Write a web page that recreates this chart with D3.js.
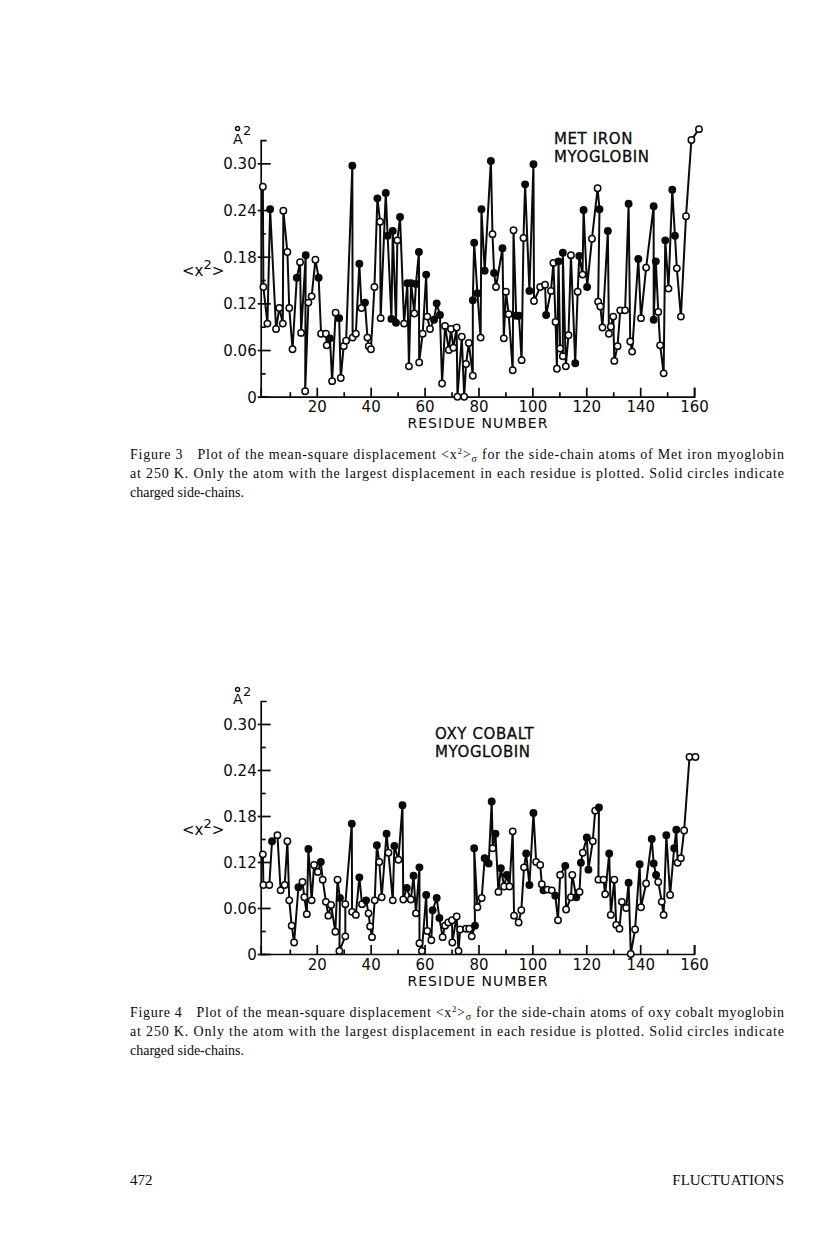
<!DOCTYPE html>
<html>
<head>
<meta charset="utf-8">
<script src="https://cdn.jsdelivr.net/npm/d3@7"></script>
<style>
  body { margin: 0; background: #fff; }
  svg { display: block; }
</style>
</head>
<body>
<svg width="816" height="1259"></svg>
<script>
// residue number, mean-square displacement, charged side-chain (1 = solid circle)
const metResidue = [0, 0.2, 1.7, 2.7, 4.9, 6.1, 7.4, 7.6, 9.1, 9.8, 11, 12.6, 13.8, 14.2, 15.9, 15.7, 16.9, 18.1, 19.5, 20.7,
  21.6, 23.4, 23.7, 24.9, 25.7, 27, 28.3, 28.9, 30, 30.9, 33.2, 33.3, 34.5, 35.8, 36.6, 37.9, 38.8, 39.3, 40.1, 41.4,
  42.5, 43.5, 43.7, 45.6, 46.3, 47.7, 48.2, 49.4, 49.9, 50.9, 52.4, 53.6, 54.2, 55, 56.2, 56.8, 57.9, 58, 59.3, 60.6,
  61, 62, 63.5, 64.5, 65.7, 66.5, 67.6, 69, 69.8, 70.7, 71.9, 72.2, 73.8, 74.7, 75.4, 76.4, 77.9, 77.9, 78.4, 79.6,
  80.8, 81.1, 82.3, 84.6, 85.2, 85.8, 86.5, 88.9, 89.4, 90.2, 91.2, 92.7, 93, 94, 95, 96, 96.7, 97.3, 98.9, 100.4,
  100.6, 102.9, 104.7, 105.1, 106.9, 107.8, 108.6, 109.1, 109.7, 110.3, 111.3, 111.3, 112.4, 113.4, 114.3, 115.9, 116.8, 117.4, 118.6, 119,
  120.3, 122.1, 124.2, 124.9, 124.4, 125.2, 126, 128, 128.4, 129.1, 130, 130.4, 131.6, 132.6, 134.4, 135.7, 136.3, 137, 139.3, 140.3,
  142.2, 145, 145, 145.8, 146.7, 147.4, 148.7, 149.3, 150.5, 151.9, 152.9, 153.6, 155.1, 157, 159, 161.8];
const metMsd = [0.270, 0.141, 0.094, 0.241, 0.087, 0.114, 0.094, 0.239, 0.186, 0.114, 0.061, 0.153, 0.173, 0.082, 0.182, 0.007, 0.121, 0.129, 0.176, 0.153,
  0.081, 0.081, 0.066, 0.075, 0.020, 0.108, 0.101, 0.024, 0.065, 0.072, 0.297, 0.076, 0.081, 0.171, 0.114, 0.121, 0.076, 0.065, 0.061, 0.141,
  0.255, 0.225, 0.101, 0.262, 0.207, 0.100, 0.213, 0.095, 0.201, 0.231, 0.094, 0.146, 0.039, 0.146, 0.107, 0.145, 0.186, 0.044, 0.081, 0.157,
  0.103, 0.087, 0.099, 0.120, 0.105, 0.017, 0.091, 0.060, 0.087, 0.063, 0.089, 0.000, 0.077, 0.000, 0.042, 0.069, 0.027, 0.124, 0.198, 0.133,
  0.076, 0.241, 0.162, 0.303, 0.209, 0.159, 0.141, 0.191, 0.075, 0.135, 0.106, 0.034, 0.214, 0.104, 0.104, 0.047, 0.204, 0.273, 0.136, 0.299,
  0.123, 0.141, 0.144, 0.105, 0.136, 0.172, 0.096, 0.036, 0.174, 0.062, 0.052, 0.185, 0.039, 0.079, 0.182, 0.043, 0.135, 0.181, 0.157, 0.240,
  0.141, 0.203, 0.268, 0.241, 0.122, 0.116, 0.089, 0.213, 0.081, 0.090, 0.103, 0.046, 0.065, 0.111, 0.111, 0.248, 0.071, 0.058, 0.177, 0.101,
  0.166, 0.245, 0.099, 0.174, 0.109, 0.066, 0.030, 0.201, 0.139, 0.266, 0.207, 0.165, 0.103, 0.232, 0.330, 0.344];
const metCharged = [0, 0, 0, 1, 0, 0, 0, 0, 0, 0, 0, 1, 0, 0, 1, 0, 0, 0, 0, 1,
  0, 0, 0, 1, 0, 0, 1, 0, 0, 0, 1, 0, 0, 1, 0, 1, 0, 0, 0, 0,
  1, 0, 0, 1, 1, 1, 1, 1, 0, 1, 0, 1, 0, 1, 0, 1, 1, 0, 0, 1,
  0, 0, 1, 1, 1, 0, 0, 0, 0, 0, 0, 0, 0, 0, 0, 0, 0, 1, 1, 1,
  0, 1, 1, 1, 0, 1, 0, 1, 0, 0, 0, 0, 0, 1, 1, 0, 0, 1, 1, 1,
  0, 0, 0, 1, 0, 0, 0, 0, 1, 0, 0, 1, 0, 0, 0, 1, 0, 1, 0, 1,
  1, 0, 0, 1, 0, 0, 0, 1, 0, 0, 0, 0, 0, 0, 0, 1, 0, 0, 1, 0,
  0, 1, 1, 1, 0, 0, 0, 1, 0, 1, 1, 0, 0, 0, 0, 0];

const oxyResidue = [0, 0.2, 2.4, 3.4, 5.4, 6.6, 8.1, 9.1, 9.8, 10.7, 11.6, 13.2, 14.7, 15.4, 16.3, 16.9, 18.1, 19, 20.4, 21.5,
  22.2, 23.4, 24.3, 25.3, 26.9, 27.7, 28.6, 28.4, 30.6, 30.6, 33, 33.1, 34.5, 35.8, 36.8, 38.3, 39.2, 39.8, 40.5, 41.5,
  42.3, 43.2, 44.1, 45.9, 46.6, 48.2, 48.8, 50.3, 51.8, 52.1, 53.4, 54.9, 55.9, 56.8, 58.1, 58.1, 59, 60.6, 61, 62.5,
  63, 64.5, 65.5, 66.7, 67.6, 68.8, 70.2, 70.3, 71.9, 72.6, 73.2, 75.4, 76.6, 77.5, 78.7, 78.4, 79.6, 81.2, 82.3, 83.8,
  84.9, 85.3, 86.3, 87.4, 88.3, 89.5, 90.5, 91.5, 92.7, 93.2, 94.9, 95.9, 96.9, 97.7, 98.9, 100.4, 101.4, 102.9, 103.5, 104.1,
  105.6, 107.2, 108.5, 109.5, 110.3, 112.2, 112.5, 114.3, 114.8, 116.3, 117.5, 118, 118.7, 120.2, 120.8, 122.4, 123.3, 124.7, 124.5, 126.4,
  127, 128.5, 129.1, 130.4, 131.1, 132.3, 133.2, 134.8, 135.7, 136.5, 138.1, 139.8, 140.3, 142.2, 144.3, 145, 145.9, 146.7, 148, 148.7,
  149.7, 151.1, 152.6, 153.4, 153.9, 155.1, 156.3, 158.3, 160.5];
const oxyMsd = [0.130, 0.090, 0.090, 0.147, 0.155, 0.083, 0.090, 0.147, 0.070, 0.037, 0.015, 0.087, 0.094, 0.074, 0.052, 0.137, 0.070, 0.116, 0.107, 0.120,
  0.097, 0.068, 0.050, 0.064, 0.029, 0.097, 0.073, 0.004, 0.023, 0.065, 0.170, 0.055, 0.051, 0.100, 0.065, 0.070, 0.053, 0.036, 0.022, 0.070,
  0.142, 0.120, 0.074, 0.157, 0.132, 0.070, 0.141, 0.123, 0.194, 0.071, 0.086, 0.071, 0.102, 0.053, 0.113, 0.014, 0.004, 0.077, 0.030, 0.018,
  0.057, 0.073, 0.047, 0.022, 0.037, 0.041, 0.044, 0.015, 0.049, 0.004, 0.032, 0.033, 0.033, 0.023, 0.037, 0.138, 0.061, 0.073, 0.125, 0.118,
  0.199, 0.138, 0.157, 0.081, 0.112, 0.088, 0.103, 0.088, 0.160, 0.050, 0.041, 0.057, 0.113, 0.131, 0.090, 0.184, 0.120, 0.116, 0.091, 0.083,
  0.084, 0.083, 0.076, 0.044, 0.103, 0.115, 0.058, 0.074, 0.103, 0.074, 0.081, 0.119, 0.132, 0.152, 0.110, 0.147, 0.187, 0.191, 0.097, 0.097,
  0.078, 0.131, 0.051, 0.097, 0.038, 0.033, 0.068, 0.060, 0.093, 0.000, 0.032, 0.117, 0.061, 0.092, 0.150, 0.118, 0.103, 0.094, 0.068, 0.051,
  0.155, 0.077, 0.138, 0.162, 0.119, 0.125, 0.161, 0.257, 0.257];
const oxyCharged = [0, 0, 0, 1, 0, 0, 0, 0, 0, 0, 0, 1, 0, 0, 0, 1, 0, 0, 0, 1,
  0, 0, 0, 0, 0, 0, 1, 0, 0, 0, 1, 0, 0, 1, 0, 1, 0, 0, 0, 0,
  1, 0, 0, 1, 0, 0, 1, 0, 1, 0, 1, 0, 1, 0, 1, 0, 0, 1, 0, 0,
  1, 1, 1, 0, 0, 0, 0, 0, 0, 0, 0, 0, 0, 0, 1, 1, 0, 0, 1, 1,
  1, 0, 1, 0, 1, 0, 1, 0, 0, 0, 0, 0, 0, 1, 1, 1, 0, 0, 0, 1,
  0, 0, 1, 0, 0, 1, 0, 0, 0, 1, 0, 1, 0, 1, 1, 0, 0, 1, 0, 0,
  0, 1, 0, 0, 0, 0, 0, 0, 1, 0, 0, 1, 0, 0, 1, 1, 1, 0, 0, 0,
  1, 0, 1, 1, 0, 0, 0, 0, 0];

const yMajor = [0, 0.06, 0.12, 0.18, 0.24, 0.30];
const yLabels = ['0', '0.06', '0.12', '0.18', '0.24', '0.30'];
const yMinor = [0.03, 0.09, 0.15, 0.21, 0.27];
const xMajor = [20, 40, 60, 80, 100, 120, 140, 160];
const xMinor = [10, 30, 50, 70, 90, 110, 130, 150];

const svg = d3.select('svg');
svg.append('rect').attr('width', 816).attr('height', 1259).attr('fill', '#fff');

const sans = '"DejaVu Sans", Verdana, sans-serif';
const serif = '"Liberation Serif", "Times New Roman", serif';
const ink = '#0a0a0a';

function drawPanel(opt) {
  const x = d3.scaleLinear().domain([-0.8, 160]).range([260.7, 694.1]);
  const y = d3.scaleLinear().domain([0, 0.33]).range([opt.base, opt.base - 0.33 * opt.perUnit]);
  const g = svg.append('g');

  // y axis, ticks pointing into the plot
  const yAxis = g.append('g')
      .attr('transform', `translate(${x(-0.8)},0)`)
      .call(d3.axisLeft(y).tickValues(yMajor).tickSize(-10).tickSizeOuter(-6).tickPadding(4)
        .tickFormat((d, i) => yLabels[i]));
  g.append('g')
      .attr('transform', `translate(${x(-0.8)},0)`)
      .call(d3.axisLeft(y).tickValues(yMinor).tickSize(-5).tickSizeOuter(0).tickFormat(''))
      .select('.domain').remove();
  yAxis.selectAll('text').attr('dy', '0.36em');
  yAxis.selectAll('.tick line').attr('x1', -3);

  // x axis, ticks pointing up
  g.append('g')
      .attr('transform', `translate(0,${y(0)})`)
      .call(d3.axisBottom(x).tickValues(xMajor).tickSize(-9).tickSizeOuter(-9).tickPadding(5));
  g.append('g')
      .attr('transform', `translate(0,${y(0)})`)
      .call(d3.axisBottom(x).tickValues(xMinor).tickSize(-4.5).tickSizeOuter(0).tickFormat(''))
      .select('.domain').remove();

  g.selectAll('.domain, .tick line').attr('stroke', ink).attr('stroke-width', 1.7);
  g.selectAll('.tick text')
      .attr('fill', ink)
      .style('font-family', sans)
      .style('font-size', '15px');

  g.append('text')
      .attr('x', 478).attr('y', y(0) + 31.5)
      .attr('text-anchor', 'middle')
      .style('font-family', sans).style('font-size', '14px').style('letter-spacing', '1px')
      .attr('fill', ink)
      .text('RESIDUE NUMBER');

  // unit label A-ring-squared
  g.append('text')
      .attr('x', 233).attr('y', y(0.33) + 3.5)
      .style('font-family', sans).style('font-size', '14px').attr('fill', ink)
      .text('A');
  g.append('circle')
      .attr('cx', 237.6).attr('cy', y(0.33) - 11.5).attr('r', 2)
      .attr('fill', 'none').attr('stroke', ink).attr('stroke-width', 1.4);
  g.append('text')
      .attr('x', 243).attr('y', y(0.33) - 5)
      .style('font-family', sans).style('font-size', '13px').attr('fill', ink)
      .text('2');

  // <x2> label
  const lab = g.append('text')
      .attr('x', 182).attr('y', y(0.18) + 19.5)
      .style('font-family', sans).style('font-size', '15px').attr('fill', ink);
  lab.append('tspan').text('<x');
  lab.append('tspan').attr('dy', -7).style('font-size', '13px').text('2');
  lab.append('tspan').attr('dy', 7).text('>');

  // panel title
  opt.title.forEach((t, i) => {
    g.append('text')
        .attr('x', opt.titleX).attr('y', opt.titleY + i * 18)
        .style('font-family', sans).style('font-size', '15px').style('letter-spacing', '0.6px')
        .attr('fill', ink).attr('stroke', ink).attr('stroke-width', 0.3)
        .text(t);
  });

  const idx = d3.range(opt.res.length);
  const line = d3.line()
      .x(i => x(opt.res[i]))
      .y(i => y(opt.msd[i]));

  g.append('path')
      .datum(idx)
      .attr('d', line)
      .attr('fill', 'none')
      .attr('stroke', ink)
      .attr('stroke-width', 2)
      .attr('stroke-linejoin', 'round');

  g.append('g')
    .selectAll('circle')
    .data(idx)
    .enter().append('circle')
      .attr('cx', i => x(opt.res[i]))
      .attr('cy', i => y(opt.msd[i]))
      .attr('r', 3.2)
      .attr('fill', i => (opt.charged[i] ? ink : '#fff'))
      .attr('stroke', ink)
      .attr('stroke-width', 1.5);
}

drawPanel({
  res: metResidue, msd: metMsd, charged: metCharged,
  base: 396.7, perUnit: 777.8,
  title: ['MET  IRON', 'MYOGLOBIN'], titleX: 554, titleY: 143.5,
});

drawPanel({
  res: oxyResidue, msd: oxyMsd, charged: oxyCharged,
  base: 954, perUnit: 766.7,
  title: ['OXY  COBALT', 'MYOGLOBIN'], titleX: 435, titleY: 738.5,
});

function caption(yBase, num, subject) {
  const g = svg.append('g')
      .style('font-family', serif).style('font-size', '14px').attr('fill', ink);
  const l1 = g.append('text').attr('x', 130).attr('y', yBase)
      .attr('textLength', 654).attr('lengthAdjust', 'spacing');
  l1.append('tspan').text(`Figure ${num}`);
  l1.append('tspan').attr('dx', 14).text('Plot of the mean-square displacement <x');
  l1.append('tspan').attr('dy', -5).style('font-size', '9px').text('2');
  l1.append('tspan').attr('dy', 5).text('>');
  l1.append('tspan').attr('dy', 3).style('font-size', '10px').text('σ');
  l1.append('tspan').attr('dy', -3).text(` for the side-chain atoms of ${subject} myoglobin`);
  g.append('text').attr('x', 130).attr('y', yBase + 19)
      .attr('textLength', 654).attr('lengthAdjust', 'spacing')
      .text('at 250 K. Only the atom with the largest displacement in each residue is plotted. Solid circles indicate');
  g.append('text').attr('x', 130).attr('y', yBase + 38)
      .text('charged side-chains.');
}

caption(459, 3, 'Met iron');
caption(1017, 4, 'oxy cobalt');

svg.append('text')
    .attr('x', 130).attr('y', 1185)
    .style('font-family', serif).style('font-size', '15px').attr('fill', ink)
    .text('472');
svg.append('text')
    .attr('x', 784).attr('y', 1185)
    .attr('text-anchor', 'end')
    .style('font-family', serif).style('font-size', '15px').attr('fill', ink)
    .text('FLUCTUATIONS');
</script>
</body>
</html>
